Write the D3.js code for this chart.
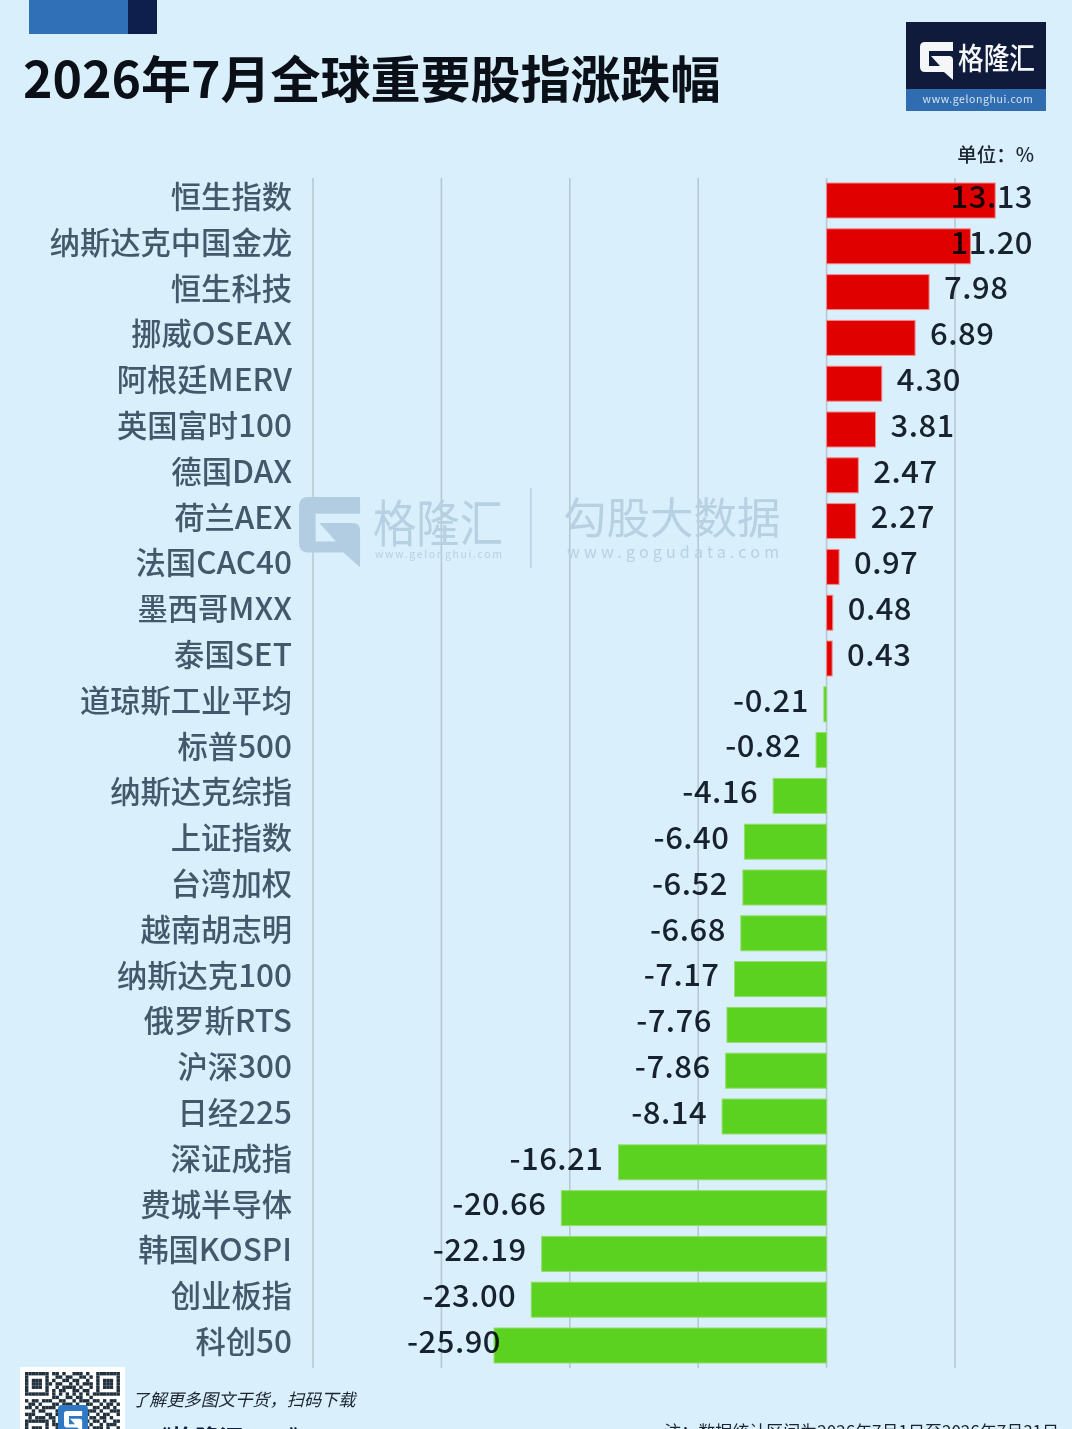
<!DOCTYPE html>
<html>
<head>
<meta charset="utf-8">
<title>2026年7月全球重要股指涨跌幅</title>
<script src="https://cdnjs.cloudflare.com/ajax/libs/d3/7.8.5/d3.min.js"></script>
<style>
  html, body { margin: 0; padding: 0; background: #d9effb; }
  svg { display: block; font-family: "Noto Sans CJK SC", "Noto Sans", sans-serif; }
</style>
</head>
<body>
<div id="chart"></div>
<script>
var names = ["恒生指数", "纳斯达克中国金龙", "恒生科技", "挪威OSEAX", "阿根廷MERV", "英国富时100", "德国DAX", "荷兰AEX",
  "法国CAC40", "墨西哥MXX", "泰国SET", "道琼斯工业平均", "标普500", "纳斯达克综指", "上证指数", "台湾加权",
  "越南胡志明", "纳斯达克100", "俄罗斯RTS", "沪深300", "日经225", "深证成指", "费城半导体", "韩国KOSPI", "创业板指", "科创50"];
var changes = [13.13, 11.20, 7.98, 6.89, 4.30, 3.81, 2.47, 2.27, 0.97, 0.48, 0.43, -0.21, -0.82, -4.16, -6.40, -6.52,
  -6.68, -7.17, -7.76, -7.86, -8.14, -16.21, -20.66, -22.19, -23.00, -25.90];
var gridTicks = [-40, -30, -20, -10, 0, 10];
// qr picture in the footer, only the top rows are on the page
var qrRows = [
  "1111111011010011101001111111",
  "1000001001101100110101000001",
  "1011101010011011001001011101",
  "1011101101100101011101011101",
  "1011101001011110100101011101",
  "1000001010110011011001000001",
  "1111111010101010101011111111",
  "0000000011001101100100000000",
  "1011011100110010111011010110",
  "0110100011011101001100101101",
  "1101011110100110110011011010",
  "0010110001111011001110100111",
  "1110001101000110111001011001",
  "0101110110111001010110110100",
  "1111111010010111001011010011",
  "1000001011101000110100101110",
  "1011101001011011011011101001",
  "1011101110100100100110010110"
];

var w = 1072, h = 1429;
var svg = d3.select("#chart").append("svg").attr("width", w).attr("height", h);
svg.append("rect").attr("width", w).attr("height", h).attr("fill", "#d9effb");

// top decoration
svg.append("rect").attr("x", 29).attr("y", 0).attr("width", 99).attr("height", 34).attr("fill", "#2f70b6");
svg.append("rect").attr("x", 128).attr("y", 0).attr("width", 29).attr("height", 34).attr("fill", "#0e1f4d");

svg.append("text").text("2026年7月全球重要股指涨跌幅")
  .attr("x", 23).attr("y", 98).attr("font-size", 50).attr("font-weight", 700).attr("fill", "#0a0f18");

// logo G, same shape for logo, watermark and qr badge
var gPath = "M0 5 Q0 0 5 0 L33 0 L33 9 L9 9 L9 24 L20 24 L11 14 L29 14 Q33 14 33 18 L33 38 L24 30 L5 30 Q0 30 0 25 Z";
var logo = svg.append("g");
logo.append("rect").attr("x", 906).attr("y", 22).attr("width", 140).attr("height", 67).attr("fill", "#101b3c");
logo.append("rect").attr("x", 906).attr("y", 89).attr("width", 140).attr("height", 22).attr("fill", "#2f6cb0");
logo.append("path").attr("d", gPath).attr("transform", "translate(920,42)").attr("fill", "#f4f6f8");
logo.append("text").text("格隆汇").attr("x", 958).attr("y", 69).attr("font-size", 30).attr("font-weight", 500)
  .attr("textLength", 77).attr("lengthAdjust", "spacingAndGlyphs").attr("fill", "#f4f6f8");
logo.append("text").text("www.gelonghui.com").attr("x", 978).attr("y", 103).attr("text-anchor", "middle")
  .attr("font-size", 10.5).attr("letter-spacing", 0.6).attr("fill", "#d5e4f2");

svg.append("text").text("单位：%").attr("x", 1034).attr("y", 162).attr("text-anchor", "end")
  .attr("font-size", 19.5).attr("font-weight", 500).attr("fill", "#1b2430");

var x = d3.scaleLinear().domain([-40, 10]).range([313, 955]);
var y = d3.scaleBand().domain(names).range([183, 1363]).paddingInner(0.236).paddingOuter(0);

// gridlines
svg.append("g").selectAll("line").data(gridTicks).enter().append("line")
  .attr("x1", function(d) { return x(d); })
  .attr("x2", function(d) { return x(d); })
  .attr("y1", 178).attr("y2", 1368)
  .attr("stroke", "#b8c8d2").attr("stroke-width", 1.6);

// watermark
var wm = svg.append("g").attr("fill", "#b7d0e2");
wm.append("path").attr("d", gPath).attr("transform", "translate(299,497) scale(1.85)").attr("fill", "#b2cde2");
wm.append("text").text("格隆汇").attr("x", 373).attr("y", 542).attr("font-size", 50)
  .attr("textLength", 130).attr("lengthAdjust", "spacingAndGlyphs");
wm.append("text").text("www.gelonghui.com").attr("x", 375).attr("y", 558).attr("font-size", 10.5).attr("textLength", 127);
wm.append("rect").attr("x", 530).attr("y", 488).attr("width", 1.5).attr("height", 80);
wm.append("text").text("勾股大数据").attr("x", 563).attr("y", 534).attr("font-size", 43.5);
wm.append("text").text("www.gogudata.com").attr("x", 567).attr("y", 558).attr("font-size", 16).attr("textLength", 212);

// bars, the pale edge is the halo the reference has round them
svg.append("g").selectAll("rect").data(names).enter().append("rect")
  .attr("x", function(d, i) { return Math.min(x(0), x(changes[i])); })
  .attr("width", function(d, i) { return Math.abs(x(changes[i]) - x(0)); })
  .attr("y", function(d) { return y(d); })
  .attr("height", y.bandwidth())
  .attr("fill", function(d, i) { return changes[i] > 0 ? "#e00000" : "#5bd21f"; })
  .attr("stroke", function(d, i) { return changes[i] > 0 ? "#f08a8a" : "#93dd6c"; })
  .attr("stroke-width", 1);

// category labels, latin runs are drawn a little wider than the chinese
var yAxis = svg.append("g").attr("transform", "translate(292,-3)")
  .call(d3.axisLeft(y).tickSize(0).tickPadding(0));
yAxis.select(".domain").remove();
yAxis.selectAll("text").each(function(d) {
  var t = d3.select(this).text("").attr("fill", "#43586a").attr("font-weight", 500)
    .attr("font-size", 30).attr("dy", "0.35em")
    .style("font-family", '"Noto Sans CJK SC", sans-serif');
  d.match(/[A-Za-z0-9]+|[^A-Za-z0-9]+/g).forEach(function(run) {
    t.append("tspan").text(run).attr("font-size", /[A-Za-z0-9]/.test(run) ? 31.5 : 30.3);
  });
});

// value labels, pushed back when they would run off the plot
var leftLimit = 407, rightLimit = 1033, gap = 15;
svg.append("g").selectAll("text").data(names).enter().append("text")
  .text(function(d, i) { return changes[i].toFixed(2); })
  .attr("y", function(d) { return y(d) + y.bandwidth() / 2 - 3.5; })
  .attr("dy", "0.35em")
  .attr("font-size", 31)
  .attr("font-weight", 500)
  .attr("letter-spacing", 0.5)
  .attr("fill", "#1b242e")
  .style("mix-blend-mode", "multiply")
  .attr("x", function(d, i) {
    var len = this.getComputedTextLength();
    if (changes[i] > 0) return Math.min(x(changes[i]) + gap, rightLimit - len);
    return Math.max(x(changes[i]) - gap - len, leftLimit);
  });

// footer
svg.append("rect").attr("x", 20).attr("y", 1367).attr("width", 105).attr("height", 62).attr("fill", "#ffffff");
var qr = svg.append("g").attr("transform", "translate(25,1372) scale(3.39)").attr("fill", "#20303c");
qrRows.forEach(function(row, r) {
  row.split("").forEach(function(c, k) {
    if (c === "1") qr.append("rect").attr("x", k).attr("y", r).attr("width", 1).attr("height", 1);
  });
});
svg.append("rect").attr("x", 58).attr("y", 1405).attr("width", 30).attr("height", 30).attr("rx", 4).attr("fill", "#2f78c4");
svg.append("path").attr("d", gPath).attr("transform", "translate(64,1411) scale(0.55)").attr("fill", "#ffffff");

svg.append("text").text("了解更多图文干货，扫码下载").attr("x", 132).attr("y", 1406)
  .attr("font-size", 17.2).attr("font-style", "italic").attr("fill", "#1b2430");
svg.append("text").text("《格隆汇App》").attr("x", 147).attr("y", 1447)
  .attr("font-size", 24).attr("font-weight", 700).attr("fill", "#0e1f3c");
svg.append("text").text("注：数据统计区间为2026年7月1日至2026年7月31日").attr("x", 1059).attr("y", 1438)
  .attr("text-anchor", "end").attr("font-size", 17).attr("fill", "#1b2430");
</script>
</body>
</html>
